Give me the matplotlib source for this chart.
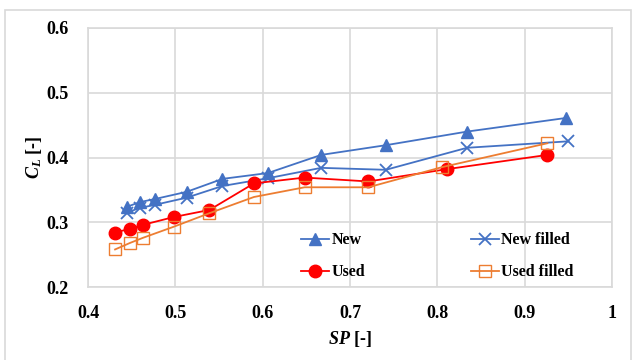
import matplotlib
matplotlib.use('Agg')
import matplotlib.pyplot as plt
from matplotlib.patches import Rectangle

# values
sp_new = [0.445, 0.459, 0.477, 0.513, 0.554, 0.606, 0.667, 0.741, 0.834, 0.947]
cl_new = [0.324, 0.331, 0.336, 0.347, 0.367, 0.376, 0.404, 0.419, 0.440, 0.461]

sp_new_filled = [0.445, 0.459, 0.477, 0.513, 0.554, 0.606, 0.667, 0.741, 0.834, 0.950]
cl_new_filled = [0.315, 0.322, 0.327, 0.338, 0.356, 0.368, 0.384, 0.381, 0.415, 0.425]

sp_used = [0.431, 0.448, 0.463, 0.498, 0.539, 0.590, 0.648, 0.721, 0.811, 0.926]
cl_used = [0.284, 0.290, 0.296, 0.308, 0.319, 0.360, 0.369, 0.363, 0.382, 0.404]

sp_used_filled = [0.431, 0.448, 0.463, 0.498, 0.539, 0.590, 0.648, 0.721, 0.805, 0.926]
cl_used_filled = [0.258, 0.268, 0.276, 0.293, 0.314, 0.339, 0.354, 0.354, 0.385, 0.422]

blue = '#4472C4'
red = '#FF0000'
orange = '#ED7D31'
grid_col = '#D9D9D9'

plt.rcParams['font.family'] = ['Liberation Serif', 'DejaVu Serif']
plt.rcParams['mathtext.fontset'] = 'custom'
plt.rcParams['mathtext.it'] = 'Liberation Serif:italic:bold'
plt.rcParams['mathtext.rm'] = 'Liberation Serif:bold'

fig = plt.figure(figsize=(6.32, 3.6), dpi=100)
ax = fig.add_axes([88/632, 73/360, 524/632, 259/360])

l_new, = ax.plot(sp_new, cl_new, color=blue, lw=1.3, marker='^', ms=8, label='New')
l_newf, = ax.plot(sp_new_filled, cl_new_filled, color=blue, lw=1.3, marker='x', ms=8, mew=1.3, label='New filled')
l_used, = ax.plot(sp_used, cl_used, color=red, lw=1.3, marker='o', ms=9, label='Used')
l_usedf, = ax.plot(sp_used_filled, cl_used_filled, color=orange, lw=1.3, marker='s', ms=8, mfc='none', mew=1.0, label='Used filled')

ax.set_xlim(0.4, 1.0)
ax.set_ylim(0.2, 0.6)
ax.set_xticks([0.4, 0.5, 0.6, 0.7, 0.8, 0.9, 1.0])
ax.set_xticklabels(['0.4', '0.5', '0.6', '0.7', '0.8', '0.9', '1'])
ax.set_yticks([0.2, 0.3, 0.4, 0.5, 0.6])
ax.set_yticklabels(['0.2', '0.3', '0.4', '0.5', '0.6'])
ax.tick_params(axis='x', length=0, labelsize=13, pad=13)
ax.tick_params(axis='y', length=0, labelsize=13, pad=14)
for lab in ax.get_xticklabels() + ax.get_yticklabels():
    lab.set_fontweight('bold')

ax.grid(True, color=grid_col, lw=1.2)
ax.set_axisbelow(True)
for s in ax.spines.values():
    s.set_color(grid_col)
    s.set_linewidth(1.2)

ax.set_xlabel(r'$SP$ [-]', fontsize=13, fontweight='bold', labelpad=5)
ax.set_ylabel(r'$C_L$ [-]', fontsize=13, fontweight='bold', labelpad=2)

leg = ax.legend([l_new, l_used, l_newf, l_usedf], ['New', 'Used', 'New filled', 'Used filled'],
                ncol=2, loc='lower left', bbox_to_anchor=(0.38, -0.03), frameon=False,
                prop={'size': 11.5, 'weight': 'bold'}, handlelength=1.75, handletextpad=0.15,
                columnspacing=6.6, labelspacing=1.0)

fig.patches.append(Rectangle((5/632, -0.01), 626/632, 350/360 + 0.01, transform=fig.transFigure,
                             fill=False, edgecolor=grid_col, lw=1.2))

fig.savefig('out.png', dpi=100)
